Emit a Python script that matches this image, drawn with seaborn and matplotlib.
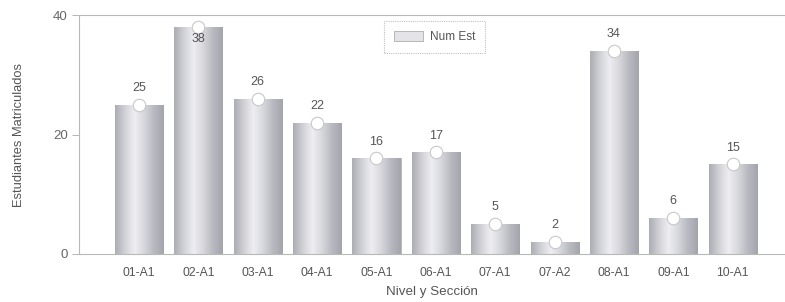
import matplotlib
matplotlib.use("Agg")
import matplotlib.pyplot as plt
import seaborn as sns
import numpy as np
import pandas as pd
from matplotlib.colors import LinearSegmentedColormap

categories = ["01-A1", "02-A1", "03-A1", "04-A1", "05-A1", "06-A1",
              "07-A1", "07-A2", "08-A1", "09-A1", "10-A1"]
num_est = [25, 38, 26, 22, 16, 17, 5, 2, 34, 6, 15]
y_ticks = [0, 20, 40]

sns.set_style("white")
plt.rcParams['font.family'] = ['Liberation Sans', 'DejaVu Sans']

df = pd.DataFrame({"Nivel": categories, "Num Est": num_est})

fig = plt.figure(figsize=(7.85, 3.02), dpi=100)
ax = fig.add_axes([0.1006, 0.159, 0.8994, 0.791])

sns.barplot(data=df, x="Nivel", y="Num Est", ax=ax, color="#c4c4cc",
            width=0.81, edgecolor="#a8a8b0", linewidth=0.5, label="Num Est")

# gradient overlay on each bar
cmap = LinearSegmentedColormap.from_list(
    "barg", ["#acacb4", "#d0d0d6", "#eeeef2", "#d6d6dc", "#b8b8c0", "#a4a4ac"])
grad = np.linspace(0, 1, 256).reshape(1, -1)
for p in ax.patches:
    x0, y0 = p.get_x(), p.get_y()
    w, h = p.get_width(), p.get_height()
    im = ax.imshow(grad, cmap=cmap, aspect="auto",
                   extent=[x0, x0 + w, y0, y0 + h], zorder=p.get_zorder() + 0.1)
    im.set_clip_path(p)

# markers at the bar tops
ax.plot(np.arange(len(categories)), num_est, linestyle="none", marker="o",
        markersize=9, markerfacecolor="white", markeredgecolor="#c8c8c8",
        markeredgewidth=0.8, zorder=5)

for i, v in enumerate(num_est):
    if v >= 37:
        ax.text(i, v - 2.0, str(v), ha="center", va="center",
                fontsize=9, color="#555555", zorder=6)
    else:
        ax.text(i, v + 2.8, str(v), ha="center", va="center",
                fontsize=9, color="#555555", zorder=6)

ax.set_xlim(-1.01, 10.88)
ax.set_ylim(0, 40)
ax.set_yticks(y_ticks)
ax.set_yticklabels([str(t) for t in y_ticks])
ax.tick_params(axis="y", which="both", left=True, length=5, width=0.6,
               color="#aaaaaa", labelsize=9.5, labelcolor="#666666", pad=3)
ax.tick_params(axis="x", bottom=False, labelsize=8.7, labelcolor="#555555", pad=6)

for s in ["left", "top", "bottom"]:
    ax.spines[s].set_visible(True)
    ax.spines[s].set_color("#b8b8b8")
    ax.spines[s].set_linewidth(0.8)
    ax.spines[s].set_linestyle((0, (1, 1)))
ax.spines["right"].set_visible(False)

ax.set_xlabel("Nivel y Sección", fontsize=9.6, color="#555555", labelpad=5)
ax.set_ylabel("Estudiantes Matriculados", fontsize=9.3, color="#555555", labelpad=20)

leg = ax.legend(loc="center", bbox_to_anchor=(0.504, 0.908), fontsize=8.5,
                frameon=True, fancybox=False, handlelength=2.4, handleheight=0.9,
                borderpad=0.85, labelcolor="#555555", handletextpad=0.6,
                borderaxespad=0)
leg.get_frame().set_edgecolor("#b0b0b0")
leg.get_frame().set_linestyle((0, (1, 1)))
leg.get_frame().set_linewidth(0.8)
for h in leg.legend_handles:
    h.set_facecolor("#e4e4e8")
    h.set_edgecolor("#a0a0a0")

fig.savefig("out.png", dpi=100)
